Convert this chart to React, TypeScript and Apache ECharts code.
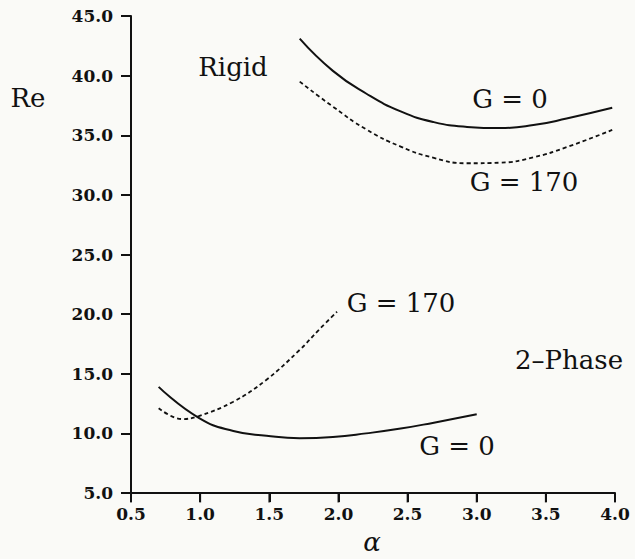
import React, { useEffect, useRef } from "react";
import * as echarts from "echarts";

const xTicks = [0.5, 1.0, 1.5, 2.0, 2.5, 3.0, 3.5, 4.0];
const yTicks = [5, 10, 15, 20, 25, 30, 35, 40, 45];

const rigidG0: [number, number][] = [
  [1.72, 43.1], [1.96, 40.4], [2.2, 38.5], [2.45, 37.0], [2.69, 36.1],
  [2.93, 35.7], [3.17, 35.6], [3.41, 35.85], [3.65, 36.4], [3.98, 37.3],
];
const rigidG170: [number, number][] = [
  [1.72, 39.5], [1.96, 37.4], [2.2, 35.5], [2.45, 34.05], [2.69, 33.1],
  [2.93, 32.65], [3.17, 32.7], [3.41, 33.15], [3.65, 34.0], [3.98, 35.45],
];
const twoPhaseG0: [number, number][] = [
  [0.7, 13.9], [0.99, 11.3], [1.24, 10.2], [1.48, 9.8], [1.72, 9.6],
  [1.96, 9.7], [2.2, 10.0], [2.45, 10.4], [2.69, 10.9], [3.0, 11.6],
];
const twoPhaseG170: [number, number][] = [
  [0.7, 12.1], [0.87, 11.2], [0.99, 11.45], [1.24, 12.65], [1.48, 14.5],
  [1.72, 17.0], [1.86, 18.7], [1.99, 20.2],
];

const SERIF = "'DejaVu Serif', 'Liberation Serif', serif";

export default function App() {
  const ref = useRef<HTMLDivElement>(null);
  useEffect(() => {
    if (!ref.current) return;
    const chart = echarts.init(ref.current, undefined, { renderer: "svg" });
    const solid = { color: "#111", width: 2, type: "solid" as const };
    const dashed = { color: "#111", width: 1.8, type: [4, 3] as any };
    const txt = (x: number, y: number, text: string, size = 26, extra: any = {}) => ({
      type: "text",
      x,
      y,
      style: {
        text,
        fill: "#111",
        font: `${size}px ${SERIF}`,
        align: "center",
        verticalAlign: "middle",
        ...extra,
      },
    });
    chart.setOption({
      animation: false,
      backgroundColor: "#fafaf7",
      grid: { left: 131, right: 20, top: 16, bottom: 66 },
      xAxis: {
        type: "value",
        min: 0.5,
        max: 4.0,
        interval: 0.5,
        axisLine: { show: true, onZero: false, lineStyle: { color: "#111", width: 2 } },
        axisTick: { show: true, inside: false, length: 9, lineStyle: { color: "#111", width: 2 } },
        splitLine: { show: false },
        axisLabel: {
          color: "#111",
          fontFamily: SERIF,
          fontWeight: "bold",
          fontSize: 17,
          margin: 12,
          formatter: (v: number) => (xTicks.includes(v) ? v.toFixed(1) : ""),
        },
      },
      yAxis: {
        type: "value",
        min: 5,
        max: 45,
        interval: 5,
        axisLine: { show: true, onZero: false, lineStyle: { color: "#111", width: 2 } },
        axisTick: { show: true, inside: false, length: 10, lineStyle: { color: "#111", width: 2 } },
        splitLine: { show: false },
        axisLabel: {
          color: "#111",
          fontFamily: SERIF,
          fontWeight: "bold",
          fontSize: 17,
          margin: 18,
          formatter: (v: number) => (yTicks.includes(v) ? v.toFixed(1) : ""),
        },
      },
      series: [
        { name: "Rigid G=0", type: "line", data: rigidG0, smooth: 0.5, symbol: "none", lineStyle: solid },
        { name: "Rigid G=170", type: "line", data: rigidG170, smooth: 0.5, symbol: "none", lineStyle: dashed },
        { name: "2-Phase G=0", type: "line", data: twoPhaseG0, smooth: 0.5, symbol: "none", lineStyle: solid },
        { name: "2-Phase G=170", type: "line", data: twoPhaseG170, smooth: 0.4, symbol: "none", lineStyle: dashed },
        {
          name: "x ticks",
          type: "scatter",
          data: xTicks.map((v) => [v, 5]),
          symbol: "rect",
          symbolSize: [2, 9],
          symbolOffset: [0, 5],
          itemStyle: { color: "#111" },
          clip: false,
          silent: true,
          z: 5,
        },
      ],
      graphic: [
        txt(28, 98, "Re"),
        txt(233, 67, "Rigid"),
        txt(510, 99, "G = 0"),
        txt(524, 182, "G = 170"),
        txt(401, 303, "G = 170"),
        txt(569, 360, "2–Phase"),
        txt(457, 446, "G = 0"),
        txt(372, 542, "α", 26, { font: `italic 26px ${SERIF}` }),
      ],
    });
    return () => chart.dispose();
  }, []);
  return (
    <div
      ref={ref}
      style={{ position: "fixed", left: 0, top: 0, width: 635, height: 559 }}
    />
  );
}
